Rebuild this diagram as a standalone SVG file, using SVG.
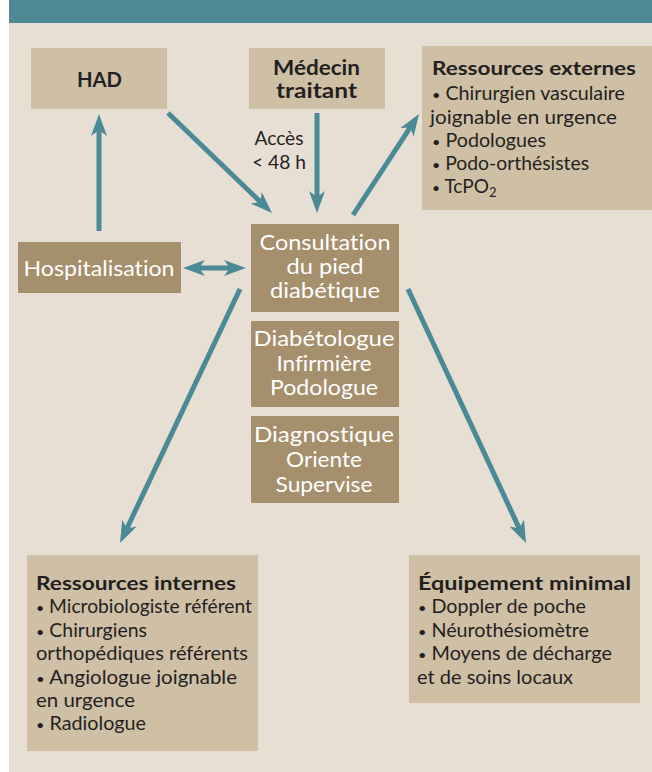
<svg xmlns="http://www.w3.org/2000/svg" width="652" height="772" viewBox="0 0 652 772">
<style>
text{font-variant-ligatures:none;font-feature-settings:"liga" 0}
.light{fill:#cfbfa5}
.dark{fill:#a68f6c}
.bold{font-family:Lato,"Open Sans","Liberation Sans",sans-serif;font-weight:700;font-size:21px;fill:#231f20;text-anchor:middle}
.wt{font-family:Lato,"Open Sans","Liberation Sans",sans-serif;font-weight:400;font-size:21px;fill:#ffffff;text-anchor:middle}
.ttl{font-family:Lato,"Open Sans","Liberation Sans",sans-serif;font-weight:700;font-size:19px;fill:#231f20}
.bd{font-family:Lato,"Open Sans","Liberation Sans",sans-serif;font-weight:400;font-size:19px;fill:#231f20}
.lbl{font-family:Lato,"Open Sans","Liberation Sans",sans-serif;font-weight:400;font-size:19px;fill:#231f20;text-anchor:middle}
.b{font-size:14px}
.cn{stroke:#4a8996;stroke-width:5;fill:none}
</style>
<defs>
<marker id="ah" viewBox="0 0 22 16" markerWidth="22" markerHeight="16" refX="12" refY="8" orient="auto-start-reverse" markerUnits="userSpaceOnUse">
<path d="M0,0 L22,8 L0,16 L6,8 z" fill="#4a8996"/>
</marker>
</defs>
<rect x="0" y="0" width="652" height="772" fill="#ffffff"/>
<rect x="9" y="0" width="643" height="772" fill="#e8dfd4"/>
<rect id="header" x="9" y="0" width="643" height="23" fill="#4e8a95"/>

<g id="connectors">
<line class="cn" x1="99" y1="231" x2="99" y2="124" marker-end="url(#ah)"/>
<line class="cn" x1="168" y1="113" x2="264.8" y2="206.1" marker-end="url(#ah)"/>
<line class="cn" x1="317" y1="113" x2="317" y2="203" marker-end="url(#ah)"/>
<line class="cn" x1="353" y1="215" x2="413.5" y2="122.4" marker-end="url(#ah)"/>
<line class="cn" x1="193" y1="268" x2="236" y2="268" marker-start="url(#ah)" marker-end="url(#ah)"/>
<line class="cn" x1="240" y1="289" x2="124.3" y2="534" marker-end="url(#ah)"/>
<line class="cn" x1="408" y1="289" x2="521.8" y2="533.9" marker-end="url(#ah)"/>
<text class="lbl" x="279" y="145" textLength="49" lengthAdjust="spacingAndGlyphs">Accès</text>
<text class="lbl" x="279" y="169" textLength="54" lengthAdjust="spacingAndGlyphs">&lt; 48 h</text>
</g>

<g id="had">
<rect class="light" x="31" y="48" width="136" height="61"/>
<text class="bold" x="99.5" y="87" font-size="23" textLength="45" lengthAdjust="spacingAndGlyphs">HAD</text>
</g>

<g id="medecin">
<rect class="light" x="249" y="48" width="136" height="61"/>
<text class="bold" x="316.5" y="75" textLength="87" lengthAdjust="spacingAndGlyphs">Médecin</text>
<text class="bold" x="316.5" y="98" textLength="81" lengthAdjust="spacingAndGlyphs">traitant</text>
</g>

<g id="ressources-externes">
<rect class="light" x="422" y="46" width="230" height="164"/>
<text class="ttl" x="432" y="75" textLength="204" lengthAdjust="spacingAndGlyphs">Ressources externes</text>
<text class="bd" x="432" y="100" textLength="193" lengthAdjust="spacingAndGlyphs"><tspan class="b">•</tspan> Chirurgien vasculaire</text>
<text class="bd" x="430" y="124" textLength="187" lengthAdjust="spacingAndGlyphs">joignable en urgence</text>
<text class="bd" x="432" y="147" textLength="114" lengthAdjust="spacingAndGlyphs"><tspan class="b">•</tspan> Podologues</text>
<text class="bd" x="432" y="170" textLength="157" lengthAdjust="spacingAndGlyphs"><tspan class="b">•</tspan> Podo-orthésistes</text>
<text class="bd" x="432" y="193"><tspan class="b">•</tspan> TcPO<tspan font-size="13" dy="4">2</tspan></text>
</g>

<g id="hospitalisation">
<rect class="dark" x="18" y="242" width="163" height="51"/>
<text class="wt" x="99" y="276" font-size="22" textLength="151" lengthAdjust="spacingAndGlyphs">Hospitalisation</text>
</g>

<g id="consultation">
<rect class="dark" x="251" y="224" width="148" height="88"/>
<text class="wt" x="325" y="250" textLength="131" lengthAdjust="spacingAndGlyphs">Consultation</text>
<text class="wt" x="325" y="274" textLength="77" lengthAdjust="spacingAndGlyphs">du pied</text>
<text class="wt" x="325" y="298" textLength="110" lengthAdjust="spacingAndGlyphs">diabétique</text>
</g>

<g id="equipe">
<rect class="dark" x="251" y="321" width="148" height="86"/>
<text class="wt" x="324" y="346" textLength="141" lengthAdjust="spacingAndGlyphs">Diabétologue</text>
<text class="wt" x="324" y="371" textLength="95" lengthAdjust="spacingAndGlyphs">Infirmière</text>
<text class="wt" x="324" y="395" textLength="108" lengthAdjust="spacingAndGlyphs">Podologue</text>
</g>

<g id="role">
<rect class="dark" x="251" y="416" width="148" height="87"/>
<text class="wt" x="324" y="442" textLength="140" lengthAdjust="spacingAndGlyphs">Diagnostique</text>
<text class="wt" x="324" y="467" textLength="76" lengthAdjust="spacingAndGlyphs">Oriente</text>
<text class="wt" x="324" y="492" textLength="97" lengthAdjust="spacingAndGlyphs">Supervise</text>
</g>

<g id="ressources-internes">
<rect class="light" x="27" y="555" width="231" height="196"/>
<text class="ttl" x="36" y="590" textLength="200" lengthAdjust="spacingAndGlyphs">Ressources internes</text>
<text class="bd" x="36" y="613" textLength="216" lengthAdjust="spacingAndGlyphs"><tspan class="b">•</tspan> Microbiologiste référent</text>
<text class="bd" x="36" y="637" textLength="111" lengthAdjust="spacingAndGlyphs"><tspan class="b">•</tspan> Chirurgiens</text>
<text class="bd" x="36" y="660" textLength="212" lengthAdjust="spacingAndGlyphs">orthopédiques référents</text>
<text class="bd" x="36" y="684" textLength="201" lengthAdjust="spacingAndGlyphs"><tspan class="b">•</tspan> Angiologue joignable</text>
<text class="bd" x="36" y="707" textLength="99" lengthAdjust="spacingAndGlyphs">en urgence</text>
<text class="bd" x="36" y="730" textLength="110" lengthAdjust="spacingAndGlyphs"><tspan class="b">•</tspan> Radiologue</text>
</g>

<g id="equipement-minimal">
<rect class="light" x="409" y="555" width="231" height="148"/>
<text class="ttl" x="418" y="590" textLength="213" lengthAdjust="spacingAndGlyphs">Équipement minimal</text>
<text class="bd" x="418" y="613" textLength="168" lengthAdjust="spacingAndGlyphs"><tspan class="b">•</tspan> Doppler de poche</text>
<text class="bd" x="418" y="637" textLength="171" lengthAdjust="spacingAndGlyphs"><tspan class="b">•</tspan> Néurothésiomètre</text>
<text class="bd" x="418" y="660" textLength="194" lengthAdjust="spacingAndGlyphs"><tspan class="b">•</tspan> Moyens de décharge</text>
<text class="bd" x="417" y="684" textLength="156" lengthAdjust="spacingAndGlyphs">et de soins locaux</text>
</g>
</svg>
